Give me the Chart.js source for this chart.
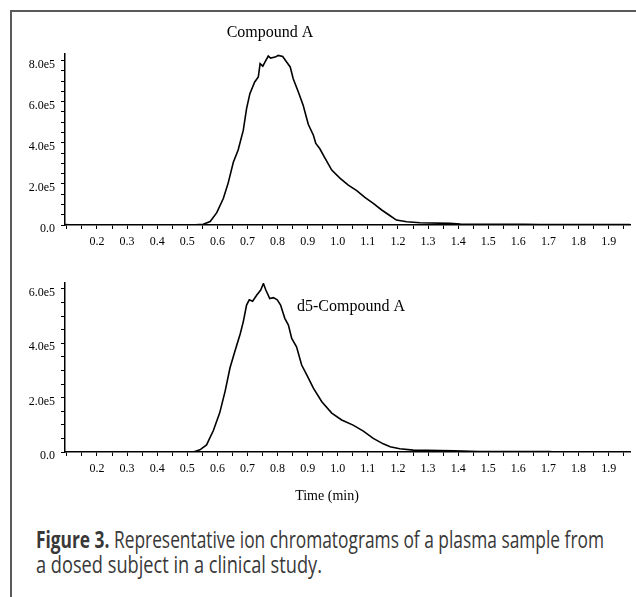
<!DOCTYPE html>
<html>
<head>
<meta charset="utf-8">
<script src="https://cdn.jsdelivr.net/npm/chart.js@4"></script>
<style>
  html, body { margin:0; padding:0; background:#fff; }
  body { width:636px; height:597px; position:relative; overflow:hidden; }
  #frame { position:absolute; left:10px; top:10px; width:640px; height:600px;
           border-left:2px solid #5a5a5a; border-top:2px solid #5a5a5a; box-sizing:border-box; }
  .wrap { position:absolute; left:0; width:636px; }
  #topWrap { top:0; height:250px; }
  #botWrap { top:250px; height:260px; }
  .cap { position:absolute; left:36px; white-space:nowrap; font-family:"Open Sans", sans-serif;
         font-size:23px; line-height:23px; color:#383838; transform-origin:0 0; }
  .cap b { font-weight:700; }
</style>
</head>
<body>
<div id="frame"></div>
<div class="wrap" id="topWrap"><canvas id="topChart"></canvas></div>
<div class="wrap" id="botWrap"><canvas id="botChart"></canvas></div>
<div class="cap" id="cap1" style="top:528px"><b>Figure 3.</b> Representative ion chromatograms of a plasma sample from</div>
<div class="cap" id="cap2" style="top:553px">a dosed subject in a clinical study.</div>
<script>
// ---- Data (time in min, intensity in counts) ----
const topTime = [0.094,0.108,0.296,0.500,0.526,0.553,0.576,0.598,0.620,0.636,0.653,0.669,0.686,0.697,0.708,0.724,0.736,0.742,0.751,0.758,0.769,0.777,0.792,0.802,0.817,0.830,0.842,0.852,0.869,0.885,0.902,0.919,0.927,0.940,0.958,0.980,1.008,1.035,1.063,1.090,1.118,1.146,1.174,1.195,1.229,1.273,1.372,1.407,1.621,1.672,1.971];
const topIntensity = [2000,1000,0,0,1000,4000,17000,60000,130000,205000,305000,365000,460000,566000,639000,696000,720000,785000,773000,793000,822000,812000,817000,825000,820000,793000,769000,712000,647000,583000,490000,437000,397000,372000,324000,267000,227000,194000,167000,134000,105000,73000,45000,24000,16000,11000,8000,5000,3000,2000,2000];

const botTime = [0.094,0.296,0.500,0.520,0.542,0.564,0.587,0.608,0.626,0.642,0.658,0.676,0.686,0.697,0.706,0.717,0.731,0.744,0.753,0.761,0.774,0.786,0.799,0.810,0.824,0.836,0.847,0.863,0.880,0.897,0.919,0.947,0.980,1.013,1.051,1.085,1.118,1.151,1.174,1.206,1.251,1.387,1.468,1.703,1.723,1.971];
const botIntensity = [1000,0,0,0,8000,26000,80000,145000,225000,310000,370000,435000,479000,541000,560000,555000,578000,596000,620000,596000,565000,568000,560000,541000,492000,467000,418000,387000,320000,284000,235000,185000,143000,118000,99000,77000,50000,30000,19000,12000,7000,4000,2000,2000,0,0];

// ---- Axis ticks ----
const xTickLabels = ['0.2','0.3','0.4','0.5','0.6','0.7','0.8','0.9','1.0','1.1','1.2','1.3','1.4','1.5','1.6','1.7','1.8','1.9'];
const xRange = [0.0937, 1.971];
const xMinorStep = 0.05;
const yTopLabels = ['0.0','2.0e5','4.0e5','6.0e5','8.0e5'];
const yBotLabels = ['0.0','2.0e5','4.0e5','6.0e5'];
const yTopMax = 832000;
const yBotMax = 622000;
const yMajorStep = 200000;
const yMinorStep = 50000;

const tickFont = { family: '"Liberation Serif", "Times New Roman", serif', size: 12 };

function xTicksBuild(scale) {
  const t = [];
  const start = Math.ceil(xRange[0] / xMinorStep - 1e-9);
  for (let i = start; i * xMinorStep <= xRange[1] + 1e-9; i++) {
    t.push({ value: +(i * xMinorStep).toFixed(3) });
  }
  scale.ticks = t;
}
function xLabel(v) {
  const k = Math.round(v * 10);
  if (Math.abs(v * 10 - k) > 1e-6) return '';
  const idx = k - 2;
  return (idx >= 0 && idx < xTickLabels.length) ? xTickLabels[idx] : '';
}
function yTicksBuild(max) {
  return function (scale) {
    const t = [];
    for (let i = 0; i * yMinorStep <= max + 1e-6; i++) t.push({ value: i * yMinorStep });
    scale.ticks = t;
  };
}
function yLabel(labels) {
  return function (v) {
    if (v % yMajorStep !== 0) return '';
    const idx = v / yMajorStep;
    return labels[idx] !== undefined ? labels[idx] : '';
  };
}

const textPlugin = {
  id: 'texts',
  afterDraw(chart, args, opts) {
    const ctx = chart.ctx;
    ctx.save();
    ctx.fillStyle = '#000';
    ctx.textAlign = 'center';
    ctx.textBaseline = 'middle';
    (opts.items || []).forEach(it => {
      ctx.font = it.size + 'px "Liberation Serif", "Times New Roman", serif';
      ctx.fillText(it.text, it.x, it.y);
    });
    ctx.restore();
  }
};

function makeChart(id, times, values, yMax, yLabels, padTop, xAxisH, texts) {
  const pts = times.map((t, i) => ({ x: t, y: values[i] }));
  return new Chart(document.getElementById(id), {
    type: 'line',
    data: { datasets: [{ data: pts, borderColor: '#000', borderWidth: 1.6, pointRadius: 0,
                         tension: 0, fill: false }] },
    plugins: [textPlugin],
    options: {
      responsive: true, maintainAspectRatio: false, animation: false,
      layout: { padding: { top: padTop, right: 6, left: 0, bottom: 0 } },
      plugins: { legend: { display: false }, tooltip: { enabled: false }, texts: { items: texts } },
      scales: {
        x: {
          type: 'linear', min: xRange[0], max: xRange[1],
          afterBuildTicks: xTicksBuild,
          afterFit: s => { s.height = xAxisH; },
          grid: { drawOnChartArea: false, drawTicks: true, tickLength: 4, color: '#000', lineWidth: 1 },
          border: { display: true, color: '#000', width: 1.5 },
          ticks: { autoSkip: false, maxRotation: 0, minRotation: 0, font: tickFont, color: '#000',
                   padding: 6, callback: xLabel }
        },
        y: {
          type: 'linear', min: 0, max: yMax,
          afterBuildTicks: yTicksBuild(yMax),
          afterFit: s => { s.width = 65; },
          grid: { drawOnChartArea: false, drawTicks: true, tickLength: 4, color: '#000', lineWidth: 1 },
          border: { display: true, color: '#000', width: 1.5 },
          ticks: { autoSkip: false, font: tickFont, color: '#000', padding: 6, labelOffset: 4,
                   callback: yLabel(yLabels) }
        }
      }
    }
  });
}

makeChart('topChart', topTime, topIntensity, yTopMax, yTopLabels, 54, 25,
  [{ text: 'Compound A', x: 270, y: 33, size: 16 }]);
makeChart('botChart', botTime, botIntensity, yBotMax, yBotLabels, 33, 58,
  [{ text: 'd5-Compound A', x: 351, y: 57, size: 16 },
   { text: 'Time (min)', x: 327, y: 246, size: 14 }]);

function fitCaption() {
  [['cap1', 568], ['cap2', 286]].forEach(([id, w]) => {
    const el = document.getElementById(id);
    el.style.transform = 'none';
    const cw = el.getBoundingClientRect().width;
    el.style.transform = 'scaleX(' + (w / cw) + ')';
  });
}
fitCaption();
if (document.fonts && document.fonts.ready) document.fonts.ready.then(fitCaption);
</script>
</body>
</html>
